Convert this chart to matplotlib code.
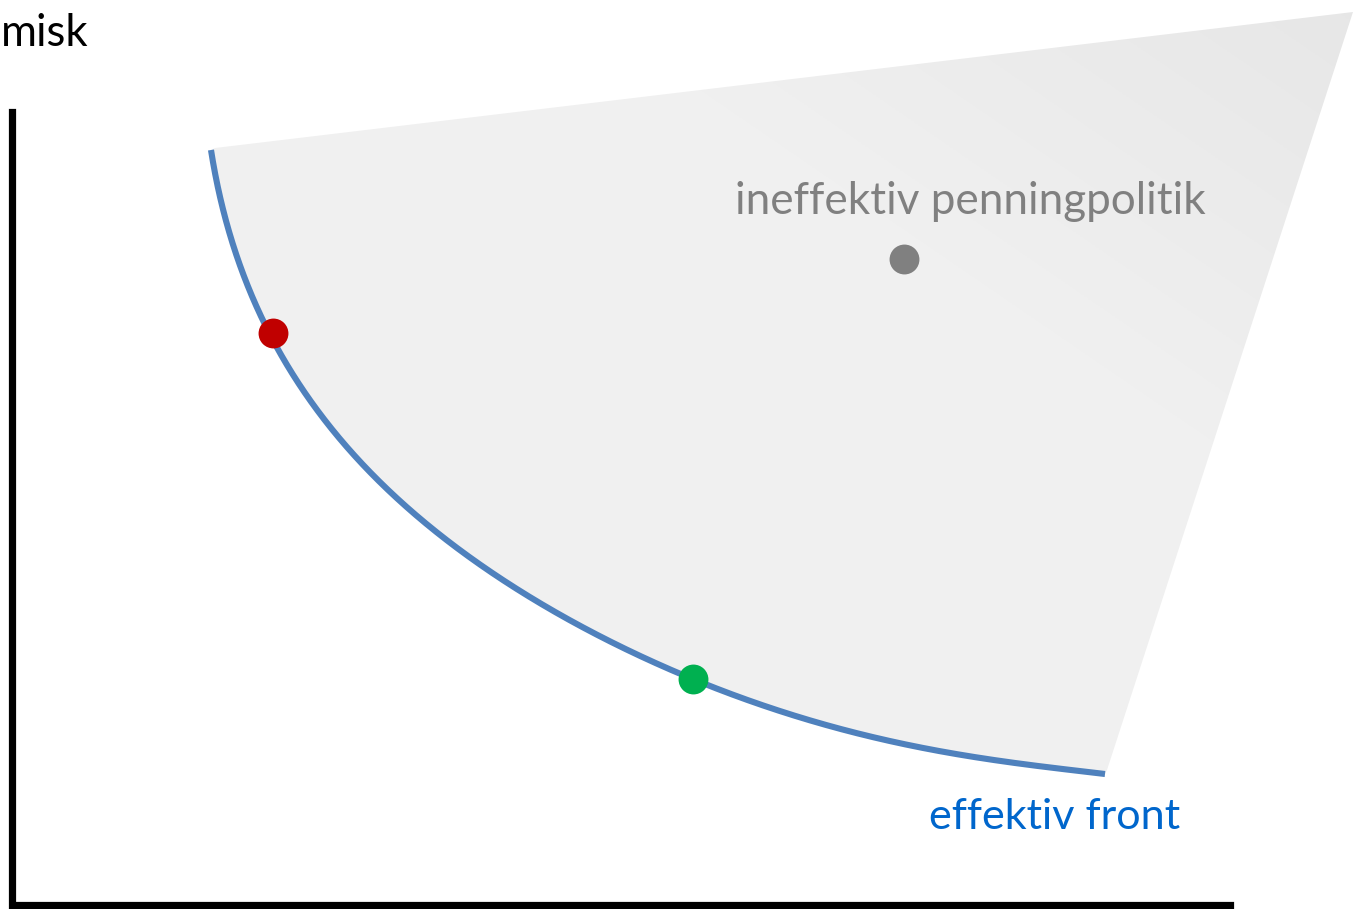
import numpy as np
import matplotlib
matplotlib.use("Agg")
import matplotlib.pyplot as plt
from matplotlib.patches import Polygon

# Data (pixel-like coordinates, y downward)
front_x = [211, 217, 225, 237, 250, 272, 297, 330, 363, 397, 430, 463, 527, 593, 693, 780, 847, 913, 980, 1047, 1105]
front_y = [150, 190, 223, 257, 288, 333, 381, 428, 468, 500, 526, 550, 595, 633, 679, 712, 730, 746, 758, 767, 774]
region_corner_x = [1107, 1353, 215]
region_corner_y = [770, 12, 148]
point_labels = ["red", "green", "gray"]
point_x = [273, 693, 904]
point_y = [333, 679, 259]
point_colors = ["#c00000", "#00b050", "#808080"]


def smooth_curve(xs, ys, deg=6, n=1500):
    """Least-squares smoothing of the read-off points along chord length."""
    x = np.asarray(xs, float)
    y = np.asarray(ys, float)
    s = np.concatenate([[0], np.cumsum(np.hypot(np.diff(x), np.diff(y)))])
    s /= s[-1]
    w = np.ones_like(s)
    w[0] = w[-1] = 20
    px = np.polyfit(s, x, deg, w=w)
    py = np.polyfit(s, y, deg, w=w)
    ss = np.linspace(0, 1, n)
    return np.polyval(px, ss), np.polyval(py, ss)


W, H = 1353, 909
fig = plt.figure(figsize=(W / 100, H / 100), dpi=100)
ax = fig.add_axes([0, 0, 1, 1])
ax.set_xlim(0, W)
ax.set_ylim(H, 0)
ax.axis("off")

cx, cy = smooth_curve(front_x, front_y)

# shaded region with gradient
poly_x = list(cx) + region_corner_x
poly_y = list(cy) + region_corner_y
poly = Polygon(np.column_stack([poly_x, poly_y]), closed=True, facecolor="none", edgecolor="none")
ax.add_patch(poly)
gx = np.linspace(0, 1, 300)
gy = np.linspace(0, 1, 300)
GX, GY = np.meshgrid(gx, gy)
t = np.clip((GX - 0.6) * 1.2 + (0.35 - GY) * 1.2, 0, 1)
c0 = np.array([0.945, 0.945, 0.945])
c1 = np.array([0.90, 0.90, 0.90])
img = c0[None, None, :] * (1 - t[..., None]) + c1[None, None, :] * t[..., None]
im = ax.imshow(img, extent=[200, W, 790, 0], origin="upper", zorder=1, aspect="auto")
im.set_clip_path(poly)

# efficient front curve
ax.plot(cx, cy, color="#4f81bd", lw=4.4, solid_capstyle="butt", zorder=3)

# points
for x, y, c in zip(point_x, point_y, point_colors):
    ax.plot(x, y, "o", ms=21.5, color=c, mec="none", zorder=4)

# axes lines
ax.plot([12, 12, 1230], [112, 905, 905], color="black", lw=5.2, solid_joinstyle="miter", zorder=5)

font = "Lato"
ax.text(970, 201, "ineffektiv penningpolitik", color="#808080", fontsize=31.7,
        ha="center", va="center", family=font, zorder=6)
ax.text(1055, 817, "effektiv front", color="#0066cc", fontsize=31.1,
        ha="center", va="center", family=font, zorder=6)
ax.text(88, 33, "misk", color="black", fontsize=31.5, ha="right", va="center", family=font, zorder=6)

fig.savefig("out.png", dpi=100)
